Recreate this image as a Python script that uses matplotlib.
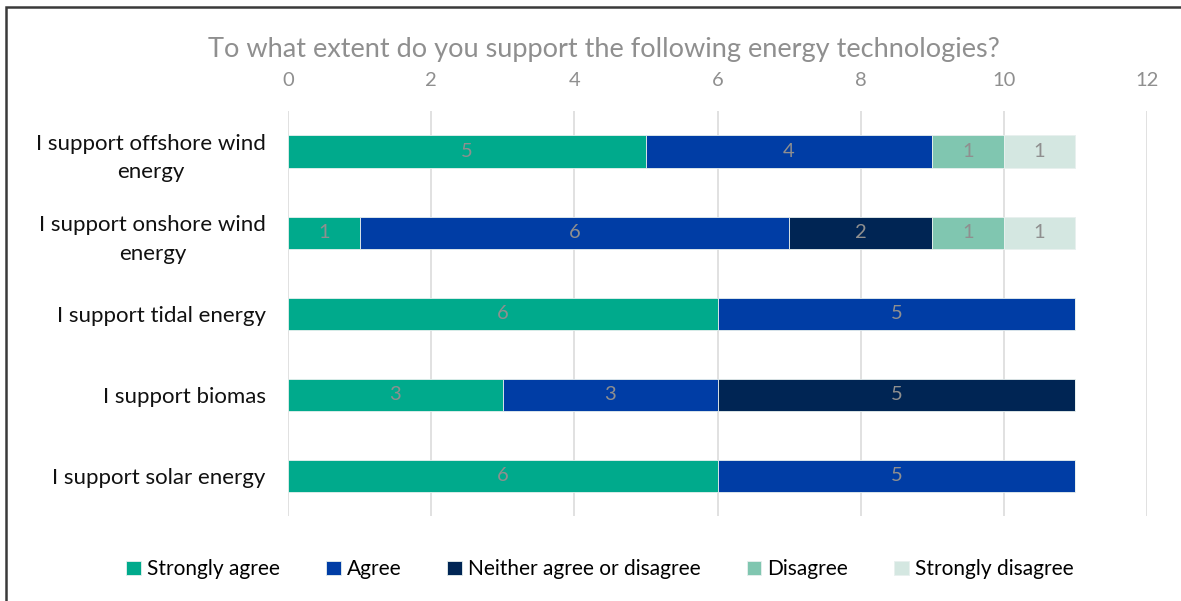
import matplotlib
matplotlib.use("Agg")
import matplotlib.pyplot as plt
from matplotlib.patches import Rectangle
import numpy as np

plt.rcParams['font.family'] = ['Lato', 'DejaVu Sans']

categories = [
    "I support offshore wind\nenergy",
    "I support onshore wind\nenergy",
    "I support tidal energy",
    "I support biomas",
    "I support solar energy",
]
series_names = ["Strongly agree", "Agree", "Neither agree or disagree",
                "Disagree", "Strongly disagree"]
strongly_agree = [5, 1, 6, 3, 6]
agree = [4, 6, 5, 3, 5]
neither = [0, 2, 0, 5, 0]
disagree = [1, 1, 0, 0, 0]
strongly_disagree = [1, 1, 0, 0, 0]
colors = ["#00AA8C", "#003DA5", "#002554", "#80C6B0", "#D4E7E1"]
x_ticks = [0, 2, 4, 6, 8, 10, 12]

fig = plt.figure(figsize=(11.81, 6.01), dpi=100)
ax = fig.add_axes([0.2439, 0.141, 0.7273, 0.674])

series = [strongly_agree, agree, neither, disagree, strongly_disagree]
y = np.arange(len(categories))
left = np.zeros(len(categories))
for name, vals, col in zip(series_names, series, colors):
    vals = np.array(vals, dtype=float)
    bars = ax.barh(y, vals, left=left, height=0.4, color=col, label=name,
                   edgecolor="#e8f0ee", linewidth=0.6, zorder=3)
    for b, v in zip(bars, vals):
        if v > 0:
            ax.text(b.get_x() + b.get_width() / 2, b.get_y() + b.get_height() / 2,
                    f"{int(v)}", ha="center", va="center", color="#8f8f8f",
                    fontsize=14.5, zorder=4)
    left += vals

ax.set_xlim(0, 12)
ax.set_ylim(len(categories) - 0.5, -0.5)
ax.set_xticks(x_ticks)
ax.xaxis.tick_top()
ax.tick_params(axis="x", length=0, labelsize=14.5, labelcolor="#8f8f8f", pad=16)
ax.set_yticks(y)
ax.set_yticklabels(categories, fontsize=16, color="#111111", ha="right",
                   multialignment="center", linespacing=1.55)
ax.tick_params(axis="y", length=0, pad=16)
ax.grid(axis="x", color="#dcdcdc", linewidth=1.2, zorder=0)
for s in ax.spines.values():
    s.set_visible(False)

fig.text(0.511, 0.918, "To what extent do you support the following energy technologies?",
         ha="center", va="center", fontsize=19.5, color="#8f8f8f")

leg = fig.legend(loc="center", bbox_to_anchor=(0.508, 0.053), ncol=5, frameon=False,
                 fontsize=15, handlelength=0.7, handleheight=0.7,
                 handletextpad=0.3, columnspacing=2.2)

fig.patches.append(Rectangle((0.005, -0.05), 1.2, 1.038, transform=fig.transFigure,
                             fill=False, edgecolor="#3a3a3a", linewidth=1.8))

fig.savefig("out.png", dpi=100)
